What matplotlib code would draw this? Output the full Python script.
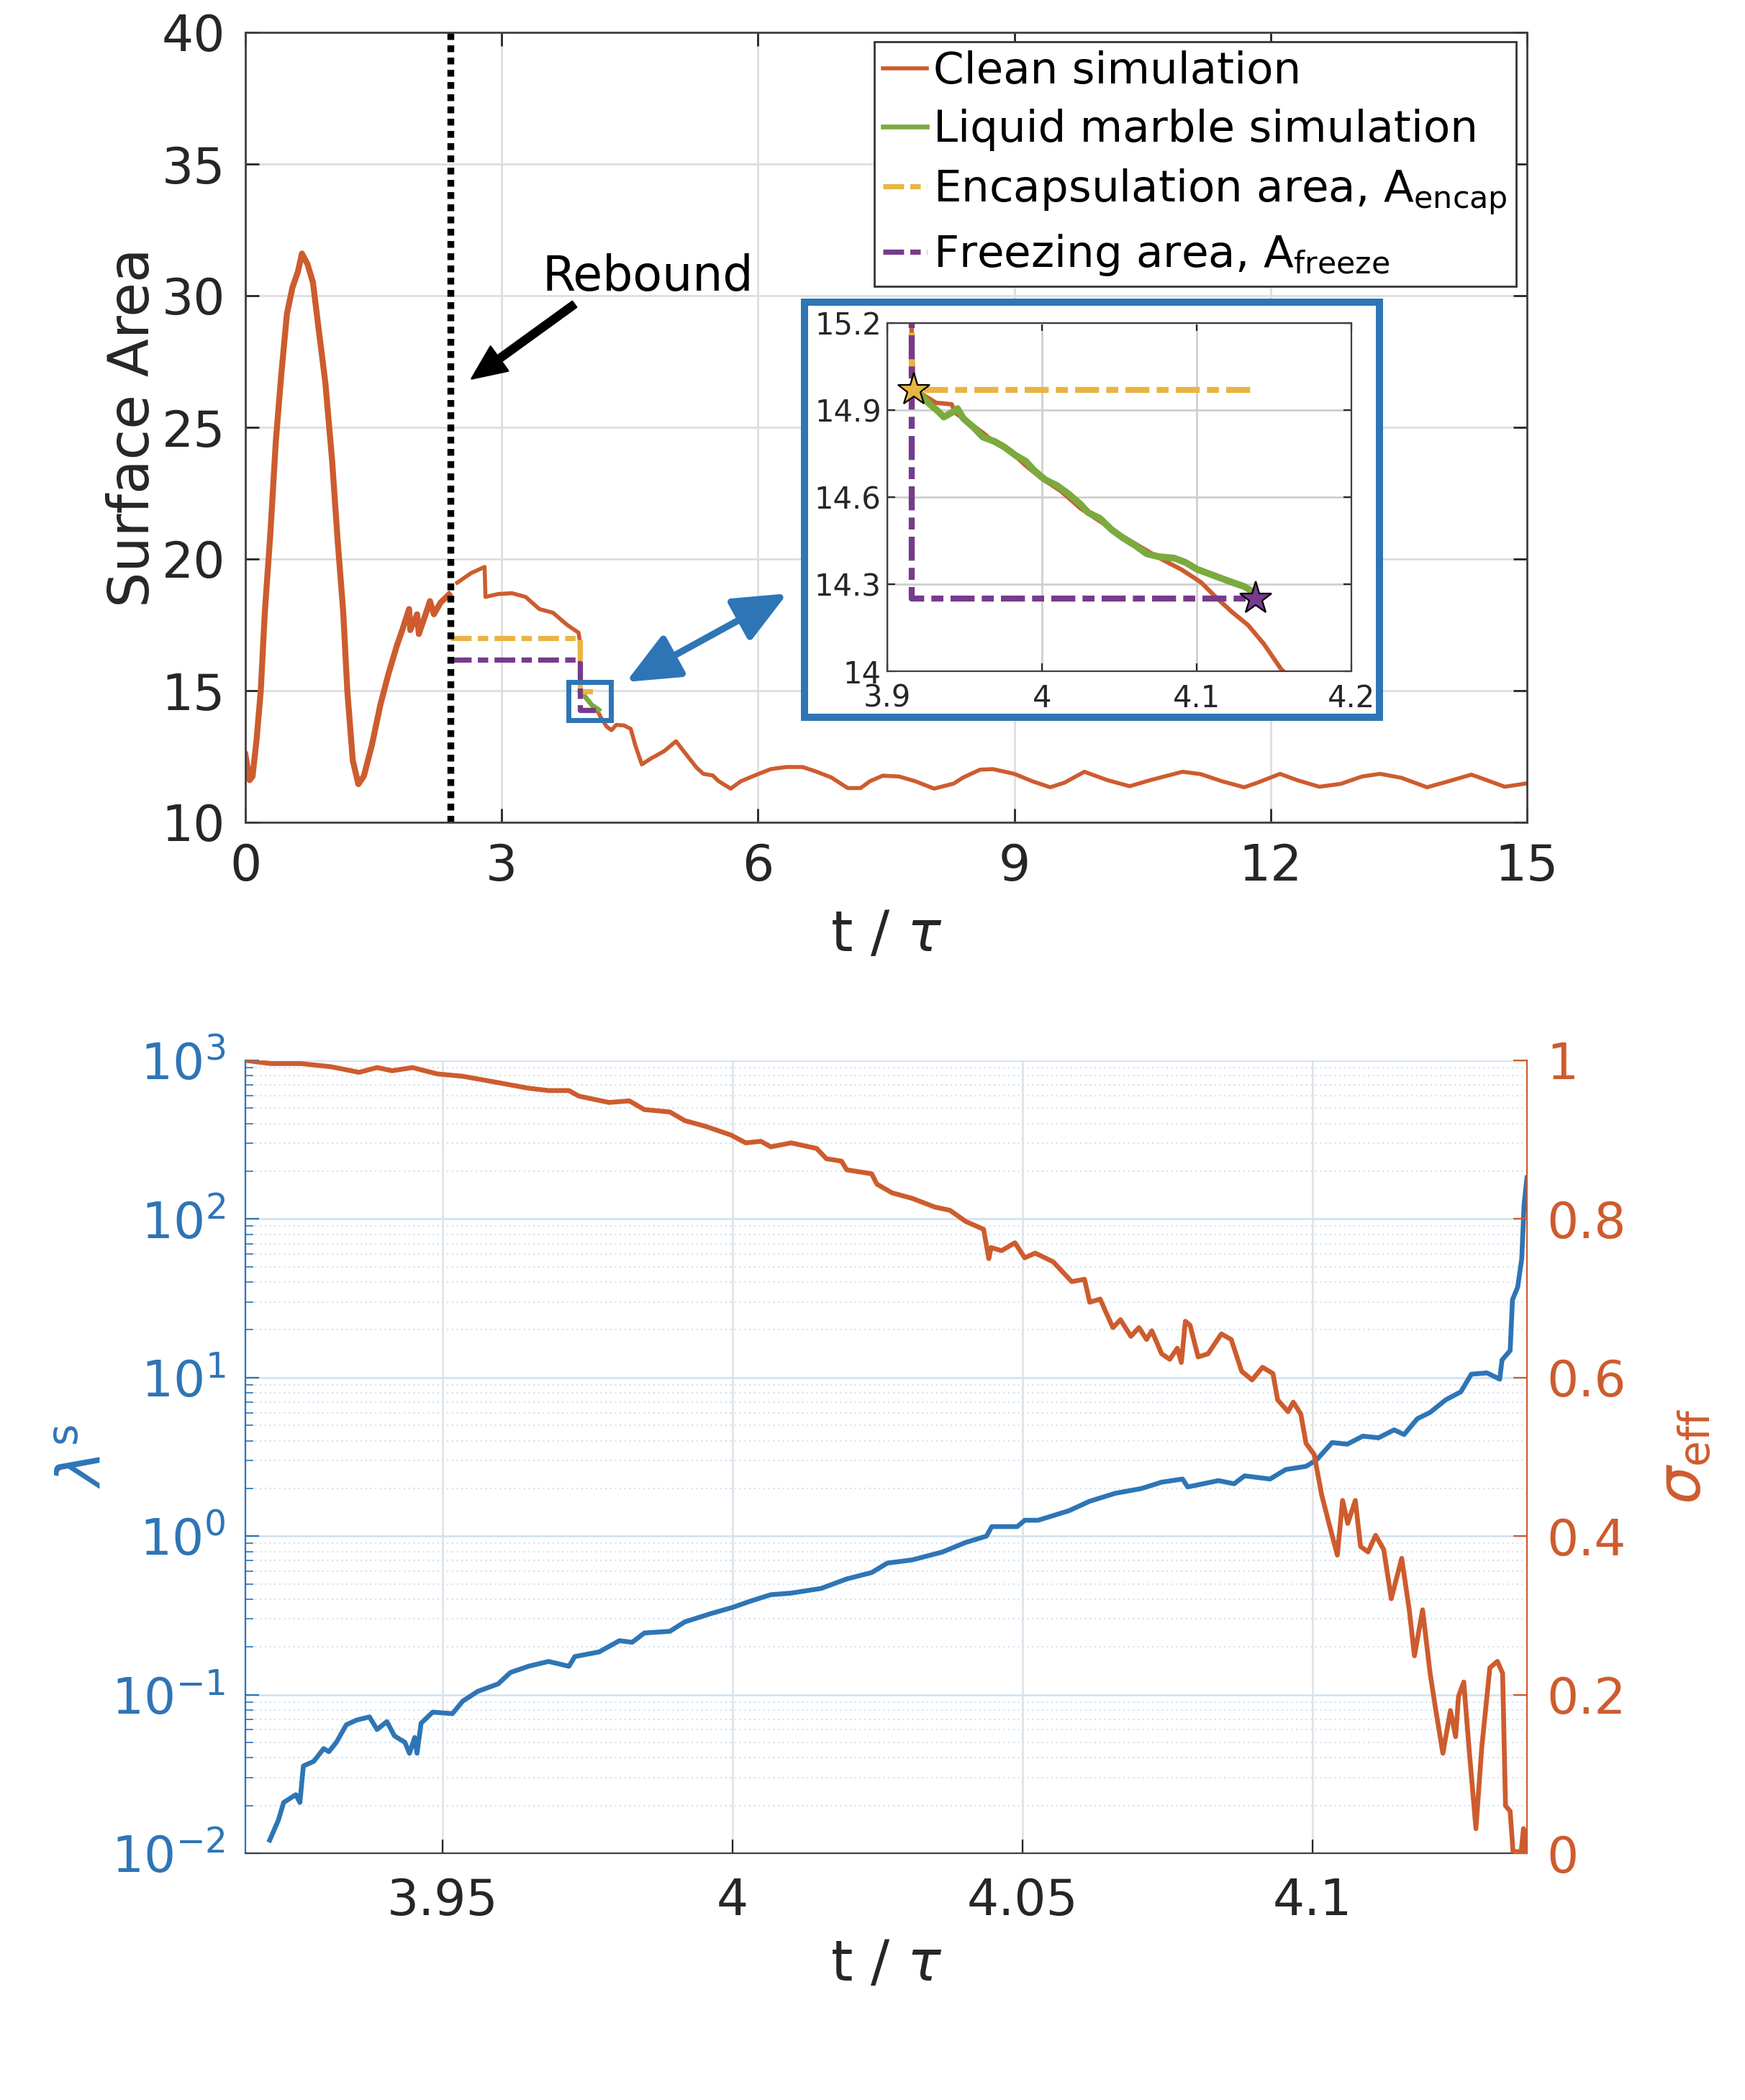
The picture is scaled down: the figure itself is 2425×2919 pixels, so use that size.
import numpy as np
import matplotlib
matplotlib.use("Agg")
import matplotlib.pyplot as plt
from matplotlib.patches import Rectangle
from matplotlib.ticker import LogLocator, NullFormatter

plt.rcParams['font.family'] = ['DejaVu Sans']
plt.rcParams['mathtext.fontset'] = 'dejavusans'
plt.rcParams['axes.unicode_minus'] = False

# colours (MATLAB-like)
c_blue = '#2E75B6'
c_orange = '#CD5C2E'
c_green = '#7BAA3F'
c_yellow = '#E9B443'
c_purple = '#763B8C'
c_text = '#262626'

# ---- top panel: surface area vs t/tau ----
clean_t = [0, 0.05, 0.084, 0.13, 0.18, 0.228, 0.293, 0.357, 0.42, 0.486, 0.55, 0.614, 0.662,
           0.727, 0.791, 0.855, 0.936, 1.016, 1.08, 1.145, 1.193, 1.257, 1.322, 1.386, 1.482,
           1.579, 1.675, 1.772, 1.836, 1.916, 1.93, 2.01, 2.03, 2.125, 2.16, 2.206, 2.286, 2.383,
           2.48, 2.64, 2.80, 2.81, 2.96, 3.12, 3.28, 3.44, 3.60, 3.765, 3.90, 3.913, 3.915, 3.917,
           3.924, 3.9315, 3.9416, 3.9441, 3.9542, 3.9618, 3.9693, 3.9794, 3.9895, 3.9996, 4.0122,
           4.0248, 4.0399, 4.0525, 4.0651, 4.0777, 4.0903, 4.1029, 4.1130, 4.1231, 4.1332, 4.1433,
           4.1546, 4.23, 4.285, 4.34, 4.43, 4.51, 4.566, 4.64, 4.75, 4.90, 5.04, 5.13, 5.28, 5.36,
           5.47, 5.54, 5.68, 5.80, 6.0, 6.15, 6.33, 6.52, 6.67, 6.86, 7.05, 7.20, 7.31, 7.46, 7.65,
           7.84, 8.06, 8.29, 8.40, 8.60, 8.75, 9.0, 9.21, 9.42, 9.59, 9.82, 10.09, 10.35, 10.59,
           10.97, 11.18, 11.43, 11.69, 11.85, 12.11, 12.31, 12.57, 12.82, 13.07, 13.28, 13.53,
           13.83, 14.03, 14.35, 14.53, 14.74, 15.0]
clean_a = [12.57, 11.6, 11.75, 13.1, 15.0, 18.0, 21.0, 24.5, 27.0, 29.3, 30.3, 30.9, 31.6,
           31.2, 30.5, 28.8, 26.7, 23.7, 20.7, 18.0, 15.0, 12.35, 11.45, 11.75, 12.95,
           14.45, 15.64, 16.7, 17.3, 18.1, 17.3, 17.9, 17.15, 18.05, 18.4, 17.9, 18.35, 18.65,
           19.1, 19.46, 19.7, 18.56, 18.67, 18.7, 18.56, 18.1, 17.96, 17.5, 17.2, 16.9, 15.3, 14.97,
           14.95, 14.925, 14.92, 14.89, 14.851, 14.822, 14.788, 14.758, 14.709, 14.665, 14.621,
           14.562, 14.508, 14.464, 14.424, 14.385, 14.350, 14.306, 14.252, 14.203, 14.159, 14.095,
           14.007, 13.63, 13.5, 13.7, 13.68, 13.55, 12.9, 12.2, 12.43, 12.7, 13.08, 12.7, 12.08, 11.84,
           11.78, 11.56, 11.28, 11.56, 11.83, 12.02, 12.1, 12.1, 11.94, 11.7, 11.3, 11.3, 11.56, 11.77, 11.74,
           11.56, 11.28, 11.47, 11.7, 12.0, 12.02, 11.84, 11.56, 11.33, 11.51, 11.92, 11.60, 11.37, 11.60,
           11.92, 11.83, 11.56, 11.33, 11.51, 11.84, 11.60, 11.35, 11.46, 11.74, 11.84, 11.69,
           11.33, 11.51, 11.81, 11.60, 11.35, 11.48]

marble_t = [3.917, 3.9214, 3.9265, 3.9328, 3.9366, 3.9416, 3.9454, 3.9492, 3.9555, 3.9618, 3.9693,
            3.9756, 3.9832, 3.9895, 3.9945, 4.0021, 4.0097, 4.0172, 4.0248, 4.0298, 4.0374, 4.0450,
            4.0525, 4.0601, 4.0676, 4.0752, 4.0853, 4.0928, 4.1004, 4.1080, 4.1155, 4.1231, 4.1307, 4.1370]
marble_a = [14.97, 14.955, 14.925, 14.896, 14.876, 14.891, 14.905, 14.871, 14.842, 14.807, 14.792,
            14.773, 14.743, 14.724, 14.694, 14.660, 14.640, 14.611, 14.576, 14.547, 14.527, 14.488,
            14.459, 14.434, 14.405, 14.395, 14.390, 14.375, 14.351, 14.336, 14.321, 14.306, 14.292, 14.272]

encap_t = [2.40, 3.916, 3.916, 4.138]
encap_a = [16.99, 16.99, 14.97, 14.97]
freeze_t = [2.40, 3.916, 3.916, 4.138]
freeze_a = [16.18, 16.18, 14.25, 14.25]
star_t = [3.917, 4.138]
star_a = [14.97, 14.25]
rebound_t = 2.40

# ---- bottom panel: lambda^s and sigma_eff ----
lam_t = [3.9202, 3.9217, 3.9226, 3.9247, 3.9254, 3.926, 3.9278, 3.9295, 3.9304, 3.9317, 3.9334,
         3.9352, 3.9374, 3.9387, 3.9404, 3.9417, 3.9435, 3.9443, 3.9452, 3.9456, 3.9463, 3.9483,
         3.9517, 3.9535, 3.9561, 3.9596, 3.9617, 3.9648, 3.9683, 3.9718, 3.9728, 3.977, 3.9805,
         3.9827, 3.9848, 3.9892, 3.9918, 3.9962, 4.0, 4.0031, 4.0066, 4.0101, 4.0153, 4.0197,
         4.0240, 4.0267, 4.0310, 4.0362, 4.0402, 4.0438, 4.0447, 4.0491, 4.0504, 4.0527, 4.0580,
         4.0616, 4.0660, 4.0705, 4.0740, 4.0776, 4.0785, 4.0838, 4.0865, 4.0883, 4.0927, 4.0954,
         4.0989, 4.1007, 4.1034, 4.1060, 4.1087, 4.1114, 4.1141, 4.1158, 4.1181, 4.1203, 4.1230,
         4.1256, 4.1274, 4.1301, 4.1323, 4.1327, 4.1341, 4.1345, 4.1354, 4.1361, 4.1365, 4.1370]
lam_val = [0.0121, 0.0162, 0.0209, 0.0234, 0.0209, 0.0355, 0.038, 0.0457, 0.0437, 0.0501, 0.0646,
           0.0692, 0.0724, 0.0603, 0.0676, 0.055, 0.0501, 0.0427, 0.0537, 0.0427, 0.0661, 0.0776,
           0.0759, 0.0912, 0.105, 0.117, 0.138, 0.151, 0.162, 0.151, 0.174, 0.186, 0.219,
           0.214, 0.245, 0.251, 0.288, 0.324, 0.355, 0.389, 0.427, 0.437, 0.468, 0.537,
           0.589, 0.676, 0.708, 0.794, 0.912, 1.0, 1.148, 1.148, 1.259, 1.259, 1.445,
           1.66, 1.862, 1.995, 2.188, 2.291, 2.042, 2.239, 2.138, 2.399, 2.291, 2.63,
           2.754, 3.02, 3.89, 3.80, 4.27, 4.17, 4.68, 4.37, 5.50, 6.03, 7.24,
           8.13, 10.5, 10.7, 9.77, 12.9, 14.8, 30.9, 37.2, 56.2, 123, 182]

sig_t = [3.916, 3.9204, 3.9256, 3.9308, 3.9356, 3.9387, 3.9413, 3.9448, 3.9491, 3.9535, 3.9596,
         3.9648, 3.9683, 3.9718, 3.9735, 3.9787, 3.9822, 3.9848, 3.9892, 3.9918, 3.9953, 3.9997,
         4.0023, 4.0049, 4.0066, 4.0101, 4.0145, 4.0162, 4.0188, 4.0197, 4.0240, 4.0249, 4.0275,
         4.0310, 4.0349, 4.0375, 4.0402, 4.0433, 4.0442, 4.0446, 4.0464, 4.0487, 4.0504, 4.0522,
         4.0553, 4.0576, 4.0585, 4.0607, 4.0616, 4.0634, 4.0643, 4.0656, 4.0669, 4.0687, 4.0701,
         4.0714, 4.0723, 4.0740, 4.0754, 4.0767, 4.0774, 4.0781, 4.0789, 4.0803, 4.0820, 4.0843,
         4.0860, 4.0878, 4.0896, 4.0914, 4.0932, 4.0940, 4.0958, 4.0967, 4.0980, 4.0989, 4.1003,
         4.1016, 4.1030, 4.1043, 4.1052, 4.1061, 4.1074, 4.1083, 4.1096, 4.1109, 4.1123, 4.1136,
         4.1154, 4.1167, 4.1176, 4.1190, 4.1203, 4.1212, 4.1225, 4.1238, 4.1247, 4.1252, 4.1261,
         4.1270, 4.1282, 4.1292, 4.1306, 4.1319, 4.1328, 4.1333, 4.1341, 4.1346, 4.1360, 4.1364, 4.1368]
sig_val = [1.0, 0.996, 0.996, 0.992, 0.985, 0.991, 0.987, 0.991, 0.983, 0.980, 0.972,
           0.965, 0.962, 0.962, 0.955, 0.947, 0.949, 0.938, 0.935, 0.924, 0.917, 0.906,
           0.896, 0.898, 0.891, 0.896, 0.889, 0.876, 0.873, 0.862, 0.857, 0.844, 0.833,
           0.826, 0.815, 0.811, 0.797, 0.787, 0.750, 0.764, 0.760, 0.770, 0.751, 0.757,
           0.746, 0.728, 0.721, 0.724, 0.695, 0.699, 0.684, 0.663, 0.673, 0.652, 0.663,
           0.648, 0.659, 0.630, 0.623, 0.637, 0.619, 0.671, 0.666, 0.626, 0.630, 0.655,
           0.648, 0.608, 0.597, 0.613, 0.605, 0.572, 0.557, 0.569, 0.554, 0.517, 0.503,
           0.452, 0.412, 0.376, 0.445, 0.416, 0.445, 0.387, 0.380, 0.401, 0.383, 0.321,
           0.372, 0.307, 0.249, 0.307, 0.227, 0.184, 0.126, 0.180, 0.147, 0.198, 0.216,
           0.133, 0.031, 0.133, 0.234, 0.242, 0.227, 0.060, 0.053, 0.002, 0.002, 0.031, 0.002]

W, H = 2425, 2919
fig = plt.figure(figsize=(W / 200, H / 200), dpi=200)

dash = (0, (4, 1.2, 2, 1.2))

# top axes
ax = fig.add_axes([341 / W, 1 - 1143 / H, 1781 / W, 1098 / H])
ct = np.array(clean_t)
ca = np.array(clean_a)
early = ct <= 2.45
ax.plot(ct[early], ca[early], color=c_orange, lw=3.0)
ax.plot(ct[ct >= 2.40], ca[ct >= 2.40], color=c_orange, lw=2.0, label='Clean simulation')
ax.plot(marble_t, marble_a, color=c_green, lw=2.4, label='Liquid marble simulation')
ax.plot(encap_t, encap_a, color=c_yellow, lw=2.6, ls=dash,
        label=r'Encapsulation area, A$_{\mathregular{encap}}$')
ax.plot(freeze_t, freeze_a, color=c_purple, lw=2.6, ls=dash,
        label=r'Freezing area, A$_{\mathregular{freeze}}$')
ax.axvline(rebound_t, color='black', lw=3.4, ls=(0, (1, 0.8)), dash_capstyle='butt')
ax.add_patch(Rectangle((3.78, 13.88), 0.5, 1.45, fill=False, ec=c_blue, lw=2.5, zorder=5))

ax.set_xlim(0, 15)
ax.set_ylim(10, 40)
ax.set_xticks(np.arange(0, 16, 3))
ax.set_yticks(np.arange(10, 41, 5))
ax.grid(True, color='#dedede', lw=1)
ax.set_axisbelow(True)
ax.tick_params(direction='in', length=7, width=1, top=True, right=True,
               labelsize=25, colors=c_text, pad=10)
for s in ax.spines.values():
    s.set_color('#404040')
    s.set_linewidth(1)
ax.set_xlabel(r't / $\tau$', fontsize=28, color=c_text)
ax.set_ylabel('Surface Area', fontsize=28, color=c_text)
ax.xaxis.set_label_coords(0.5, -0.108)
ax.yaxis.set_label_coords(-0.066, 0.5)

h, l = ax.get_legend_handles_labels()
leg = ax.legend(h, l, loc='upper right', bbox_to_anchor=(0.9916, 0.988), fontsize=22,
                handlelength=1.0, handletextpad=0.15, labelspacing=0.36, borderpad=0.2,
                borderaxespad=0, fancybox=False, framealpha=1, edgecolor='#333333')
leg.get_frame().set_linewidth(1)

ax.text(3.47, 30.2, 'Rebound', fontsize=24, va='baseline', ha='left')
ax.annotate('', xy=(2.65, 26.85), xytext=(3.85, 29.67),
            arrowprops=dict(facecolor='black', edgecolor='black', width=3.5,
                            headwidth=15, headlength=17, shrink=0))

# frame around the zoomed inset
fig.patches.append(Rectangle((1118 / W, 1 - 997 / H), 799 / W, 577 / H, transform=fig.transFigure,
                             fc='white', ec=c_blue, lw=3.6, zorder=2))
ax.annotate('', xy=(870 / W, 1 - 948 / H), xycoords='figure fraction',
            xytext=(1094 / W, 1 - 825 / H), textcoords='figure fraction',
            arrowprops=dict(arrowstyle='<|-|>,head_length=0.5,head_width=0.22', color=c_blue,
                            lw=3.4, mutation_scale=45, shrinkA=0, shrinkB=0))

# inset
axi = fig.add_axes([1233 / W, 1 - 933 / H, 645 / W, 484 / H], zorder=3)
axi.plot(ct, ca, color=c_orange, lw=2.2)
axi.plot(marble_t, marble_a, color=c_green, lw=3.4)
axi.plot(encap_t, encap_a, color=c_yellow, lw=3.0, ls=dash)
axi.plot(freeze_t, freeze_a, color=c_purple, lw=3.0, ls=dash)
axi.plot(star_t[0], star_a[0], marker='*', ms=17, mfc=c_yellow, mec='black', mew=0.8, ls='none')
axi.plot(star_t[1], star_a[1], marker='*', ms=17, mfc=c_purple, mec='black', mew=0.8, ls='none')
axi.set_xlim(3.9, 4.2)
axi.set_ylim(14, 15.2)
axi.set_xticks([3.9, 4.0, 4.1, 4.2], ['3.9', '4', '4.1', '4.2'])
axi.set_yticks([14, 14.3, 14.6, 14.9, 15.2], ['14', '14.3', '14.6', '14.9', '15.2'])
axi.grid(True, color='#cfcfcf', lw=1)
axi.set_axisbelow(True)
axi.tick_params(direction='in', length=4, labelsize=15, colors=c_text, pad=3, top=True, right=True)
axi.tick_params(axis='x', pad=6)
for s in axi.spines.values():
    s.set_color('#404040')
    s.set_linewidth(0.8)

# bottom axes
ax2 = fig.add_axes([341 / W, 1 - 2576 / H, 1781 / W, 1102 / H])
ax2.plot(lam_t, lam_val, color=c_blue, lw=2.4)
ax2.set_yscale('log')
ax2.set_ylim(1e-2, 1e3)
ax2.set_xlim(3.916, 4.137)
ax2.set_xticks([3.95, 4.0, 4.05, 4.1], ['3.95', '4', '4.05', '4.1'])
ax2.yaxis.set_major_locator(LogLocator(base=10, numticks=10))
ax2.yaxis.set_minor_locator(LogLocator(base=10, subs=np.arange(2, 10), numticks=20))
ax2.yaxis.set_minor_formatter(NullFormatter())
ax2.grid(True, which='major', axis='y', color='#d4e3f1', lw=1)
ax2.grid(True, which='minor', axis='y', color='#d4e3f1', lw=0.8, ls=(0, (1, 2)))
ax2.grid(True, which='major', axis='x', color='#dfe4ea', lw=1)
ax2.set_axisbelow(True)
ax2.tick_params(axis='x', direction='in', length=7, labelsize=25, colors=c_text, pad=12)
ax2.tick_params(axis='y', which='major', direction='in', length=7, labelsize=25,
                colors=c_blue, pad=10)
ax2.tick_params(axis='y', which='minor', direction='in', length=4, colors=c_blue)
ax2.spines['top'].set_visible(False)
ax2.spines['right'].set_visible(False)
ax2.spines['left'].set_color(c_blue)
ax2.spines['bottom'].set_color('#404040')
ax2.set_xlabel(r't / $\tau$', fontsize=28, color=c_text)
ax2.set_ylabel(r'$\lambda^{\mathregular{s}}$', fontsize=30, color=c_blue)
ax2.xaxis.set_label_coords(0.5, -0.106)
ax2.yaxis.set_label_coords(-0.103, 0.5)

ax3 = ax2.twinx()
ax3.plot(sig_t, sig_val, color=c_orange, lw=2.4)
ax3.set_ylim(0, 1)
ax3.set_yticks([0, 0.2, 0.4, 0.6, 0.8, 1.0], ['0', '0.2', '0.4', '0.6', '0.8', '1'])
ax3.tick_params(axis='y', direction='in', length=7, labelsize=25, colors=c_orange, pad=10)
ax3.spines['top'].set_visible(False)
ax3.spines['left'].set_visible(False)
ax3.spines['bottom'].set_visible(False)
ax3.spines['right'].set_color(c_orange)
ax3.set_ylabel(r'$\sigma_{\mathregular{eff}}$', fontsize=30, color=c_orange)
ax3.yaxis.set_label_coords(1.10, 0.5)

fig.savefig('out.png', dpi=200)
